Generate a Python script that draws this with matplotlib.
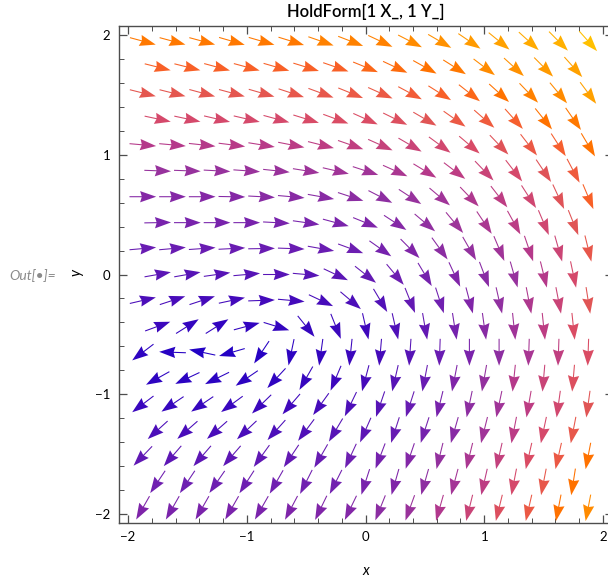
import numpy as np
import matplotlib
matplotlib.use("Agg")
import matplotlib.pyplot as plt
from matplotlib.colors import LinearSegmentedColormap

# ---------------- data ----------------
# Hexagonal sample grid: rows from top (y≈1.95) to bottom (y≈-1.95).
# Even rows hold 16 arrows, odd rows 15 arrows (shifted by half a step).
# Arrow directions in degrees (0 = pointing right, counter-clockwise positive)
angle_rows = [
    [-15, -15, -15, -16, -16, -17, -19, -21, -25, -27, -30, -34, -39, -42, -45, -48],
    [-14, -14, -15, -15, -16, -17, -19, -22, -25, -29, -32, -37, -42, -45, -48],
    [-14, -14, -15, -15, -16, -18, -20, -22, -24, -28, -32, -38, -42, -46, -50, -53],
    [-12, -12, -13, -13, -15, -17, -20, -24, -26, -30, -35, -41, -48, -51, -55],
    [-5, -5, -6, -7, -9, -11, -14, -19, -24, -30, -36, -40, -46, -52, -57, -59],
    [-2, -2, -3, -4, -6, -9, -13, -18, -24, -31, -37, -46, -52, -56, -62],
    [0, 0, 0, -1, -3, -5, -10, -18, -27, -33, -40, -46, -52, -57, -65, -67],
    [1, 0, 0, 0, -3, -8, -15, -22, -33, -40, -50, -56, -61, -67, -68],
    [5, 5, 4, 3, 1, -2, -10, -20, -35, -45, -54, -60, -67, -71, -74, -76],
    [10, 10, 8, 5, 0, -5, -25, -38, -50, -59, -65, -69, -74, -76, -78],
    [13, 18, 18, 12, 2, -5, -25, -40, -59, -68, -72, -75, -77, -79, -79, -81],
    [20, 32, 32, 15, -17, -51, -68, -77, -77, -80, -81, -82, -84, -84, -84],
    [-143, 178, 168, -164, -124, -102, -98, -96, -95, -94, -92, -90, -90, -92, -92, -92],
    [-151, -155, -154, -146, -133, -120, -113, -105, -103, -101, -101, -100, -96, -95, -95],
    [-143, -146, -146, -144, -136, -131, -126, -116, -109, -108, -104, -102, -102, -100, -98, -98],
    [-138, -139, -139, -137, -132, -127, -121, -114, -108, -108, -106, -104, -101, -102, -101],
    [-134, -131, -131, -131, -126, -124, -120, -115, -111, -109, -104, -104, -103, -103, -103, -101],
    [-124, -124, -125, -123, -120, -117, -117, -108, -106, -106, -105, -103, -101, -101, -99],
    [-120, -120, -120, -120, -120, -118, -116, -116, -112, -110, -106, -104, -104, -103, -101, -101],
]

# Relative field strength (colour level 0..1) of every arrow
level_rows = [
    [0.91] * 6 + [0.92, 0.92, 0.92, 0.93, 0.94, 0.95, 0.96, 0.97, 0.98, 1.0],
    [0.87] * 7 + [0.88, 0.89, 0.90, 0.91, 0.93, 0.94, 0.95, 0.96],
    [0.81] * 5 + [0.82, 0.82, 0.83, 0.83, 0.85, 0.87, 0.88, 0.90, 0.92, 0.93, 0.96],
    [0.74] * 5 + [0.75, 0.76, 0.76, 0.77, 0.80, 0.83, 0.84, 0.86, 0.90, 0.91],
    [0.63, 0.63, 0.63, 0.64, 0.64, 0.65, 0.66, 0.67, 0.69, 0.70, 0.73, 0.75, 0.79, 0.83, 0.86, 0.90],
    [0.54, 0.54, 0.54, 0.55, 0.55, 0.56, 0.57, 0.57, 0.60, 0.63, 0.66, 0.70, 0.74, 0.79, 0.84],
    [0.48, 0.48, 0.48, 0.48, 0.49, 0.49, 0.49, 0.50, 0.51, 0.54, 0.57, 0.61, 0.66, 0.72, 0.79, 0.87],
    [0.43] * 6 + [0.44, 0.45, 0.48, 0.52, 0.56, 0.60, 0.65, 0.72, 0.80],
    [0.37] * 7 + [0.38, 0.42, 0.46, 0.50, 0.53, 0.57, 0.63, 0.71, 0.82],
    [0.31, 0.30, 0.30, 0.30, 0.30, 0.30, 0.31, 0.34, 0.38, 0.42, 0.46, 0.49, 0.54, 0.63, 0.74],
    [0.25, 0.24, 0.23, 0.22, 0.22, 0.22, 0.23, 0.25, 0.28, 0.34, 0.40, 0.46, 0.52, 0.61, 0.70, 0.80],
    [0.18, 0.15, 0.14, 0.14, 0.15, 0.16, 0.18, 0.20, 0.27, 0.34, 0.42, 0.49, 0.57, 0.66, 0.76],
    [0.12, 0.08, 0.05, 0.06, 0.08, 0.12, 0.15, 0.18, 0.23, 0.30, 0.37, 0.44, 0.51, 0.59, 0.67, 0.76],
    [0.12, 0.10, 0.10, 0.11, 0.13, 0.16, 0.19, 0.23, 0.30, 0.37, 0.46, 0.53, 0.63, 0.70, 0.77],
    [0.17, 0.16, 0.16, 0.17, 0.18, 0.20, 0.23, 0.26, 0.30, 0.36, 0.43, 0.51, 0.57, 0.66, 0.73, 0.80],
    [0.25, 0.24, 0.24, 0.24, 0.25, 0.27, 0.30, 0.32, 0.36, 0.42, 0.49, 0.57, 0.65, 0.74, 0.82],
    [0.33, 0.32, 0.32, 0.32, 0.33, 0.34, 0.36, 0.39, 0.42, 0.47, 0.53, 0.60, 0.68, 0.76, 0.83, 0.90],
    [0.40, 0.39, 0.39, 0.39, 0.40, 0.40, 0.41, 0.43, 0.46, 0.51, 0.58, 0.66, 0.74, 0.82, 0.90],
    [0.45, 0.44, 0.44, 0.44, 0.44, 0.45, 0.46, 0.47, 0.50, 0.55, 0.62, 0.70, 0.77, 0.83, 0.90, 0.93],
]

tick_values = [-2, -1, 0, 1, 2]
tick_labels = ["\u22122", "\u22121", "0", "1", "2"]
title_text = "HoldForm[1 X_, 1 Y_]"
x_label = "x"
y_label = "y"

# ---------------- style ----------------
cmap_anchors = [
    (0.00, "#1a00c8"), (0.13, "#3004c0"), (0.20, "#4008bc"), (0.27, "#5010b8"),
    (0.33, "#6018b4"), (0.40, "#7020b0"), (0.46, "#8025a8"), (0.52, "#9030a0"),
    (0.57, "#a03498"), (0.64, "#b83a88"), (0.70, "#c84478"), (0.75, "#d84a68"),
    (0.80, "#e05555"), (0.84, "#ee5a40"), (0.87, "#f86028"), (0.90, "#ff7000"),
    (0.92, "#ff8000"), (0.94, "#ff9000"), (0.96, "#ffa000"), (0.98, "#ffb000"),
    (1.00, "#ffc000"),
]
cmap = LinearSegmentedColormap.from_list("field", cmap_anchors)

plt.rcParams["font.family"] = ["Lato", "DejaVu Sans"]

# hexagonal grid geometry
step = 0.25
row_step = step * np.sqrt(3) / 2
y_top = (len(angle_rows) - 1) * row_step / 2
arrow_len = 0.225

X, Y, U, V, C = [], [], [], [], []
for j, (angs, levs) in enumerate(zip(angle_rows, level_rows)):
    n = len(angs)
    xs = (np.arange(n) - (n - 1) / 2) * step
    y = y_top - j * row_step
    a = np.deg2rad(np.array(angs, dtype=float))
    X.extend(xs)
    Y.extend([y] * n)
    U.extend(np.cos(a))
    V.extend(np.sin(a))
    C.extend(levs)

W, H = 608, 579
fig = plt.figure(figsize=(W / 100, H / 100), dpi=100)
ax = fig.add_axes([118.5 / W, (H - 523) / H, 494 / W, 497 / H])
ax.set_xlim(-2.08, 2.08)
ax.set_ylim(-2.075, 2.075)

ax.quiver(X, Y, U, V, color=cmap(np.array(C)), pivot="middle",
          angles="xy", scale_units="xy", scale=1 / arrow_len,
          units="xy", width=0.009, headwidth=10.5, headlength=15,
          headaxislength=13.5, zorder=3)

frame_col = "#4d4d4d"
for s in ax.spines.values():
    s.set_color(frame_col)
    s.set_linewidth(1.0)

ax.set_xticks(tick_values)
ax.set_xticklabels(tick_labels)
ax.set_yticks(tick_values)
ax.set_yticklabels(tick_labels)
minor = np.arange(-2.0, 2.01, 0.2)
ax.set_xticks(minor, minor=True)
ax.set_yticks(minor, minor=True)
ax.tick_params(which="both", direction="in", top=True, right=True,
               color=frame_col, labelsize=9.5, labelcolor="black")
ax.tick_params(which="major", length=6, width=0.9)
ax.tick_params(which="minor", length=3.5, width=0.7)
ax.tick_params(axis="x", pad=6)
ax.tick_params(axis="y", pad=6)

fig.text(366 / W, 1 - 12 / H, title_text, ha="center", va="center",
         fontsize=12, fontweight="semibold", color="black")
fig.text(366 / W, 1 - 571 / H, x_label, ha="center", va="center",
         fontsize=10.5, style="italic")
fig.text(76 / W, 1 - 272 / H, y_label, ha="center", va="center",
         fontsize=10.5, style="italic", rotation=90)
fig.text(33 / W, 1 - 276 / H, "Out[\u2022]=", ha="center", va="center",
         fontsize=10, style="italic", color="#8a8a8a")

fig.savefig("out.png", dpi=100)
